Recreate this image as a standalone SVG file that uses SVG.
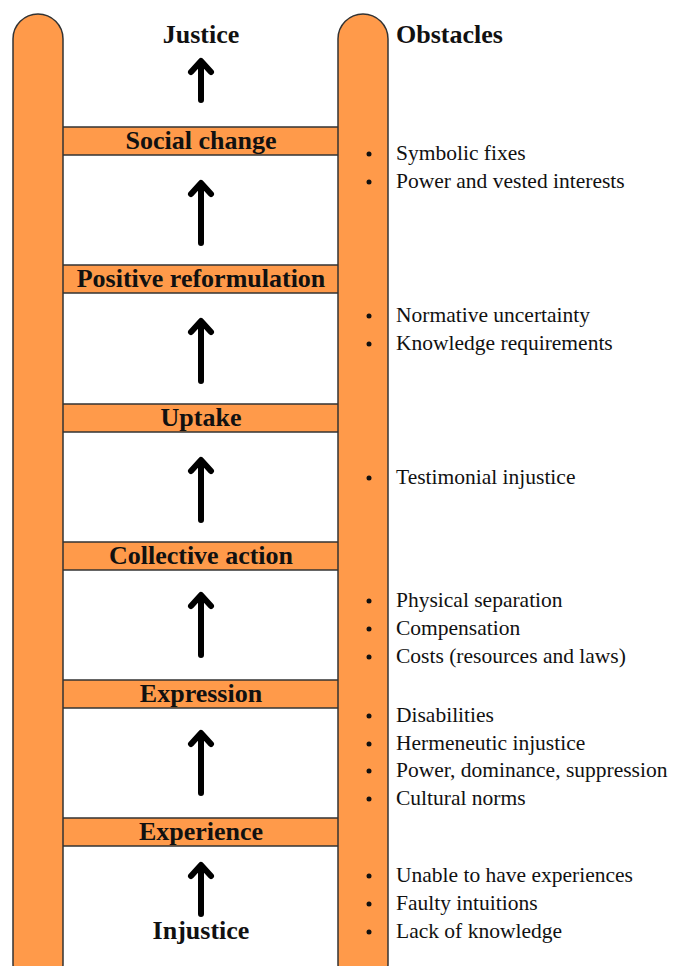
<svg xmlns="http://www.w3.org/2000/svg" width="673" height="966" viewBox="0 0 673 966">
<style>
.rail{fill:#FF9A4A;stroke:#333;stroke-width:1.5}
.rung{fill:#FF9A4A;stroke:#333;stroke-width:1.5}
.lbl{font-family:"Liberation Serif","Times New Roman",serif;font-weight:bold;font-size:26px;fill:#111;text-anchor:middle}
.hdr{font-family:"Liberation Serif","Times New Roman",serif;font-weight:bold;font-size:26px;fill:#111}
.ob{font-family:"Liberation Serif","Times New Roman",serif;font-size:21.5px;fill:#111}
.arr{fill:none;stroke:#000;stroke-width:6;stroke-linecap:round;stroke-linejoin:round}
</style>
<rect width="673" height="966" fill="#fff"/>
<g id="rungs">
<g id="social-change"><rect class="rung" x="55" y="127" width="290" height="28"/><text class="lbl" x="201" y="149">Social change</text></g>
<g id="positive-reformulation"><rect class="rung" x="55" y="265" width="290" height="28"/><text class="lbl" x="201" y="287">Positive reformulation</text></g>
<g id="uptake"><rect class="rung" x="55" y="404" width="290" height="28"/><text class="lbl" x="201" y="426">Uptake</text></g>
<g id="collective-action"><rect class="rung" x="55" y="542" width="290" height="28"/><text class="lbl" x="201" y="564">Collective action</text></g>
<g id="expression"><rect class="rung" x="55" y="680" width="290" height="28"/><text class="lbl" x="201" y="702">Expression</text></g>
<g id="experience"><rect class="rung" x="55" y="818" width="290" height="28"/><text class="lbl" x="201" y="840">Experience</text></g>
</g>
<g id="rails">
<rect id="left-rail" class="rail" x="13" y="14" width="50" height="975" rx="25" ry="25"/>
<rect id="right-rail" class="rail" x="338" y="14" width="50" height="975" rx="25" ry="25"/>
</g>
<g id="justice"><text class="lbl" x="201" y="43">Justice</text></g>
<g id="injustice"><text class="lbl" x="201" y="939">Injustice</text></g>
<g id="connectors">
<path class="arr" d="M201,100V62M191,72L201,61L211,72"/>
<path class="arr" d="M201,243V184M191,194L201,183L211,194"/>
<path class="arr" d="M201,381V322M191,332L201,321L211,332"/>
<path class="arr" d="M201,520V461M191,471L201,460L211,471"/>
<path class="arr" d="M201,655V596M191,606L201,595L211,606"/>
<path class="arr" d="M201,793V734M191,744L201,733L211,744"/>
<path class="arr" d="M201,914V866M191,876L201,865L211,876"/>
</g>
<g id="obstacles">
<text class="hdr" x="396" y="43">Obstacles</text>
<g fill="#111">
<circle cx="369" cy="154" r="2.5"/><circle cx="369" cy="182" r="2.5"/>
<circle cx="369" cy="316" r="2.5"/><circle cx="369" cy="344" r="2.5"/>
<circle cx="369" cy="478" r="2.5"/>
<circle cx="369" cy="601" r="2.5"/><circle cx="369" cy="629" r="2.5"/><circle cx="369" cy="657" r="2.5"/>
<circle cx="369" cy="716" r="2.5"/><circle cx="369" cy="744" r="2.5"/><circle cx="369" cy="771" r="2.5"/><circle cx="369" cy="799" r="2.5"/>
<circle cx="369" cy="876" r="2.5"/><circle cx="369" cy="904" r="2.5"/><circle cx="369" cy="932" r="2.5"/>
</g>
<text class="ob" x="396" y="160">Symbolic fixes</text>
<text class="ob" x="396" y="188">Power and vested interests</text>
<text class="ob" x="396" y="322">Normative uncertainty</text>
<text class="ob" x="396" y="350">Knowledge requirements</text>
<text class="ob" x="396" y="484">Testimonial injustice</text>
<text class="ob" x="396" y="607">Physical separation</text>
<text class="ob" x="396" y="635">Compensation</text>
<text class="ob" x="396" y="663">Costs (resources and laws)</text>
<text class="ob" x="396" y="722">Disabilities</text>
<text class="ob" x="396" y="750">Hermeneutic injustice</text>
<text class="ob" x="396" y="777">Power, dominance, suppression</text>
<text class="ob" x="396" y="805">Cultural norms</text>
<text class="ob" x="396" y="882">Unable to have experiences</text>
<text class="ob" x="396" y="910">Faulty intuitions</text>
<text class="ob" x="396" y="938">Lack of knowledge</text>
</g>
</svg>
